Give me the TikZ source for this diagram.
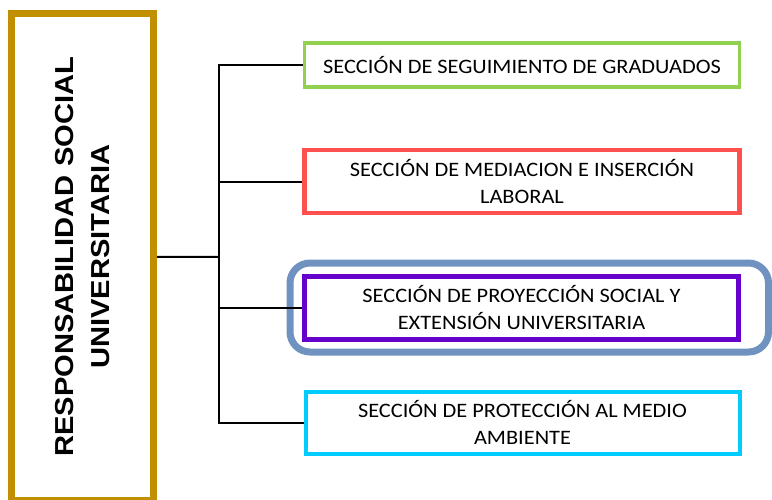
\documentclass[tikz,border=0pt]{standalone}
\usepackage{fontspec}
\setmainfont{Carlito}[FakeStretch=1.09]
\newfontfamily\titlefont{Liberation Sans}[FakeStretch=1.12]
\usetikzlibrary{positioning}
\definecolor{rsugold}{RGB}{192,144,0}
\definecolor{secgreen}{RGB}{146,208,80}
\definecolor{secred}{RGB}{255,80,80}
\definecolor{secpurple}{RGB}{102,0,204}
\definecolor{seccyan}{RGB}{0,204,255}
\definecolor{hlblue}{RGB}{111,146,192}

\begin{document}
\begin{tikzpicture}[x=1pt, y=-1pt,
    secbox/.style={rectangle, draw, line width=4pt, minimum width=435pt, inner sep=0pt,
                   align=center, font=\fontsize{20.5}{27}\selectfont},
    link/.style={line width=2pt}
]
    \useasboundingbox (0,0) rectangle (772,499);

    % === Main unit ===
    \node[draw=rsugold, line width=7pt, minimum width=142pt, minimum height=486.5pt, inner sep=0pt] (rsu) at (82.5,256.75) {};
    \node[rotate=90, align=center, font=\titlefont\bfseries\fontsize{26}{36}\selectfont] (rsutext) at (rsu.center)
        {RESPONSABILIDAD SOCIAL\\UNIVERSITARIA};

    % === Highlight frame ===
    \node[draw=hlblue, line width=7pt, rounded corners=20pt, minimum width=478.5pt, minimum height=89pt] (hl) at (529.25,307.5) {};

    % === Sections ===
    \node[secbox, draw=secgreen, line width=3.5pt, minimum height=44pt] (sec1) at (522,65)
        {SECCIÓN DE SEGUIMIENTO DE GRADUADOS};
    \node[secbox, draw=secred, line width=4.5pt, minimum height=63pt] (sec2) at (522,181.5)
        {SECCIÓN DE MEDIACION E INSERCIÓN\\LABORAL};
    \node[secbox, draw=secpurple, line width=4.5pt, minimum width=434pt, minimum height=63pt] (sec3) at (521.5,308)
        {SECCIÓN DE PROYECCIÓN SOCIAL Y\\EXTENSIÓN UNIVERSITARIA};
    \node[secbox, draw=seccyan, minimum width=434pt, minimum height=62.5pt] (sec4) at (522.5,422.75)
        {SECCIÓN DE PROTECCIÓN AL MEDIO\\AMBIENTE};

    % === Connectors ===
    \coordinate (trunk) at (219,257);
    \draw[link] (rsu.east) -- (trunk);
    \foreach \s in {sec1, sec2, sec3, sec4}
        \draw[link] (trunk) |- (\s.west);

\end{tikzpicture}
\end{document}
